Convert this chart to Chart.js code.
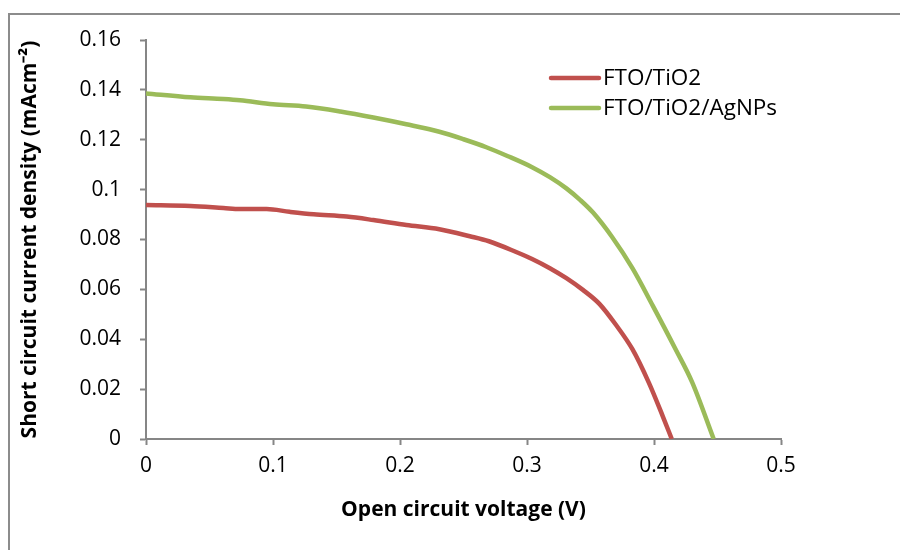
<!DOCTYPE html>
<html>
<head>
<meta charset="utf-8">
<script src="https://cdn.jsdelivr.net/npm/chart.js@4.4.1/dist/chart.umd.min.js"></script>
<style>
  html, body { margin: 0; padding: 0; background: #fff; }
  #wrap { width: 900px; height: 550px; }
</style>
</head>
<body>
<div id="wrap"><canvas id="canvas-chart" width="900" height="550"></canvas></div>
<script>
// values
const seriesNames = ['FTO/TiO2', 'FTO/TiO2/AgNPs'];

const tio2Voltage = [0, 0.035, 0.061, 0.074, 0.095, 0.113, 0.132, 0.158, 0.179, 0.205, 0.231, 0.255, 0.270, 0.291, 0.304, 0.318, 0.331, 0.344, 0.357, 0.370, 0.383, 0.396, 0.407, 0.414];
const tio2Current = [0.0938, 0.0934, 0.0926, 0.0922, 0.0922, 0.0911, 0.0901, 0.0892, 0.0878, 0.0858, 0.0841, 0.0813, 0.0793, 0.0751, 0.0722, 0.0685, 0.0645, 0.0598, 0.0542, 0.0458, 0.0360, 0.0225, 0.0090, 0];

const agVoltage = [0, 0.035, 0.061, 0.074, 0.100, 0.126, 0.153, 0.179, 0.205, 0.231, 0.250, 0.268, 0.285, 0.304, 0.318, 0.331, 0.342, 0.352, 0.367, 0.383, 0.399, 0.417, 0.430, 0.447];
const agCurrent = [0.1386, 0.1370, 0.1363, 0.1358, 0.1342, 0.1333, 0.1313, 0.1289, 0.1262, 0.1232, 0.1202, 0.1170, 0.1134, 0.1090, 0.1050, 0.1005, 0.0958, 0.0908, 0.0810, 0.0685, 0.0535, 0.0360, 0.0228, 0];

const xTicks = [0, 0.1, 0.2, 0.3, 0.4, 0.5];
const yTicks = [0, 0.02, 0.04, 0.06, 0.08, 0.1, 0.12, 0.14, 0.16];

const colors = ['#C0504D', '#9BBB59'];
const axisGray = '#868686';
const fontFamily = "'Open Sans', sans-serif";

function toPoints(xs, ys) {
    return xs.map((x, i) => ({x: x, y: ys[i]}));
}

// grey frame round the chart (only top/left visible in the picture)
const framePlugin = {
    id: 'frame',
    beforeDraw(chart) {
        const ctx = chart.ctx;
        ctx.save();
        ctx.fillStyle = '#fff';
        ctx.fillRect(0, 0, chart.width, chart.height);
        ctx.strokeStyle = '#8c8c8c';
        ctx.lineWidth = 2;
        ctx.strokeRect(9, 14, 1000, 1000);
        ctx.restore();
    }
};

// legend drawn inside the plot, top right
const legendPlugin = {
    id: 'insideLegend',
    afterDraw(chart) {
        const ctx = chart.ctx;
        ctx.save();
        ctx.font = "22.5px " + fontFamily;
        ctx.textBaseline = 'middle';
        chart.data.datasets.forEach((ds, i) => {
            const y = 78 + i * 30;
            ctx.strokeStyle = ds.borderColor;
            ctx.lineWidth = 4.5;
            ctx.lineCap = 'round';
            ctx.beginPath();
            ctx.moveTo(551, y);
            ctx.lineTo(599, y);
            ctx.stroke();
            ctx.fillStyle = '#000';
            ctx.fillText(ds.label, 603, y + 1);
        });
        ctx.restore();
    }
};

const ctx = document.getElementById("canvas-chart").getContext("2d");
const myChart = new Chart(ctx, {
    type: 'scatter',
    data: {
        datasets: [
            {
                label: seriesNames[0],
                data: toPoints(tio2Voltage, tio2Current),
                borderColor: colors[0],
                backgroundColor: colors[0],
                borderWidth: 4.5,
                showLine: true,
                pointRadius: 0,
                cubicInterpolationMode: 'monotone'
            },
            {
                label: seriesNames[1],
                data: toPoints(agVoltage, agCurrent),
                borderColor: colors[1],
                backgroundColor: colors[1],
                borderWidth: 4.5,
                showLine: true,
                pointRadius: 0,
                cubicInterpolationMode: 'monotone'
            }
        ]
    },
    options: {
        responsive: false,
        animation: false,
        layout: {
            padding: {top: 40, right: 119, left: 0, bottom: 0}
        },
        plugins: {
            legend: {display: false},
            tooltip: {enabled: false}
        },
        scales: {
            x: {
                type: 'linear',
                min: 0,
                max: 0.5,
                afterFit(scale) { scale.height = 111; },
                afterBuildTicks(scale) { scale.ticks = xTicks.map(v => ({value: v})); },
                border: {color: axisGray, width: 2},
                grid: {display: true, drawOnChartArea: false, drawTicks: true, tickLength: 6, tickColor: axisGray, tickWidth: 2},
                ticks: {
                    color: '#000',
                    padding: 8,
                    font: {family: fontFamily, size: 21},
                    callback: v => String(+v.toFixed(1))
                },
                title: {
                    display: true,
                    text: 'Open circuit voltage (V)',
                    color: '#000',
                    font: {family: fontFamily, size: 21, weight: 'bold'},
                    padding: {top: 0, bottom: 27}
                }
            },
            y: {
                type: 'linear',
                min: 0,
                max: 0.16,
                afterFit(scale) { scale.width = 146; },
                afterBuildTicks(scale) { scale.ticks = yTicks.map(v => ({value: v})); },
                border: {color: axisGray, width: 2},
                grid: {display: true, drawOnChartArea: false, drawTicks: true, tickLength: 6, tickColor: axisGray, tickWidth: 2},
                ticks: {
                    color: '#000',
                    padding: 19,
                    font: {family: fontFamily, size: 21},
                    callback: v => String(+v.toFixed(2))
                },
                title: {
                    display: true,
                    text: 'Short circuit current density (mAcm\u207B\u00B2)',
                    color: '#000',
                    font: {family: fontFamily, size: 21, weight: 'bold'},
                    padding: {top: 17, bottom: 0}
                }
            }
        }
    },
    plugins: [framePlugin, legendPlugin]
});
</script>
</body>
</html>
